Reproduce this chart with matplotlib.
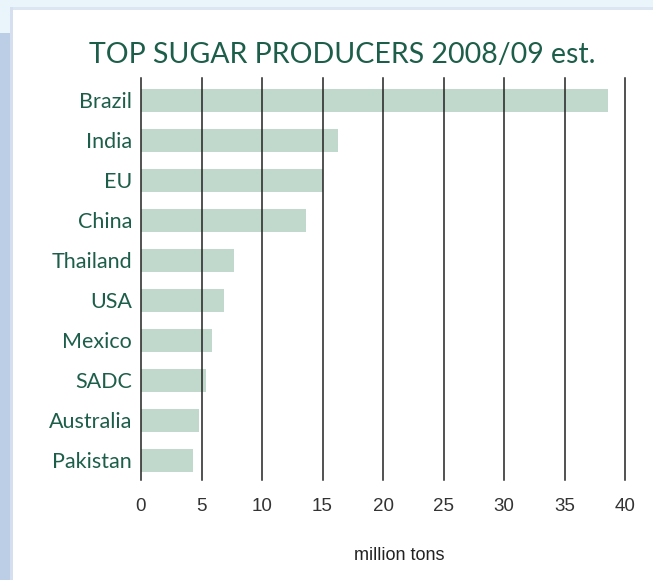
import matplotlib
matplotlib.use("Agg")
import matplotlib.pyplot as plt
from matplotlib.patches import Rectangle

countries = ["Brazil", "India", "EU", "China", "Thailand", "USA",
             "Mexico", "SADC", "Australia", "Pakistan"]
production = [38.6, 16.3, 15.0, 13.6, 7.7, 6.9, 5.9, 5.4, 4.8, 4.3]
xticks = [0, 5, 10, 15, 20, 25, 30, 35, 40]

GREEN = "#1d5e4a"
BAR = "#c1d9cc"
W, H = 653, 580

fig = plt.figure(figsize=(W / 100, H / 100), dpi=100)
fig.patch.set_facecolor("white")

def px_rect(x0, y0, x1, y1, color):
    # rectangle in pixel coords, y measured from the top
    fig.patches.append(Rectangle((x0 / W, 1 - y1 / H), (x1 - x0) / W, (y1 - y0) / H,
                                 transform=fig.transFigure, color=color, lw=0, zorder=0))

# page background strips
px_rect(0, 0, W, 7, "#eaf5fb")
px_rect(0, 0, 10, 33, "#eaf5fb")
px_rect(0, 33, 10, H, "#bccde6")
px_rect(10, 7, W, 9.5, "#dce5f2")
px_rect(10, 7, 12.5, H, "#d6dff0")

ax = fig.add_axes([141 / W, 1 - 480 / H, (625 - 141) / W, (480 - 78) / H])
ax.set_facecolor("none")
ypos = list(range(len(countries)))
ax.barh(ypos, production, height=0.57, color=BAR, zorder=2)

for x in xticks:
    ax.axvline(x, color="#222222", lw=1.1, zorder=3, clip_on=False)

ax.set_xlim(0, 40)
ax.set_ylim(9.49, -0.56)
ax.set_xticks(xticks)
ax.set_xticklabels([str(t) for t in xticks], fontsize=13.5, color="#333333",
                   family="Liberation Sans")
ax.set_yticks(ypos)
ax.set_yticklabels(countries, fontsize=15.5, color=GREEN, family="Lato")
ax.tick_params(axis="x", length=0, pad=13)
ax.tick_params(axis="y", length=0, pad=6.5)
for s in ax.spines.values():
    s.set_visible(False)

fig.text(342 / W, 1 - 55 / H, "TOP SUGAR PRODUCERS 2008/09 est.", ha="center",
         va="center", fontsize=20.5, color=GREEN, family="Lato")
fig.text(399 / W, 1 - 555 / H, "million tons", ha="center", va="center",
         fontsize=13, color="#222222", family="Liberation Sans")

fig.savefig("out.png", dpi=100)
